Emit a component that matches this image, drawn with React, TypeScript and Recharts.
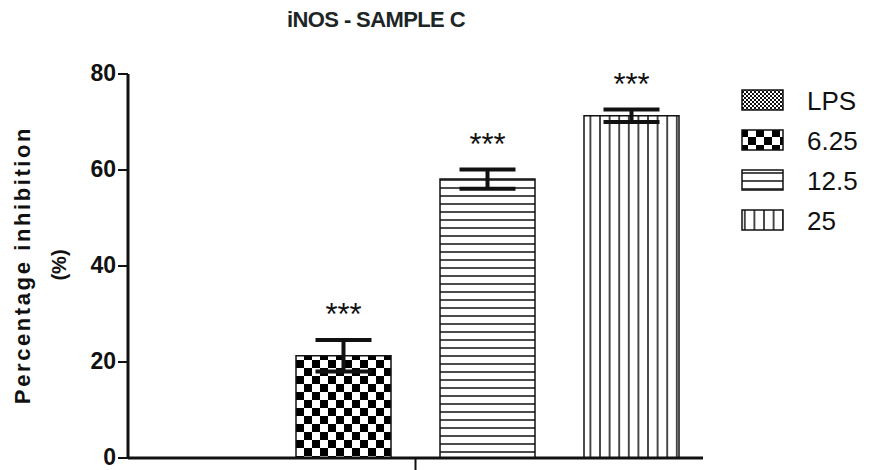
import React from 'react';
import { BarChart, Bar, XAxis, YAxis, ErrorBar, LabelList } from 'recharts';

const seriesKeys = ['lps', 'c625', 'c125', 'c25'];
const seriesNames = ['LPS', '6.25', '12.5', '25'];
const seriesValues = [0, 21.3, 58.1, 71.3];
const seriesErrors = [0, 3.3, 2.0, 1.3];
const seriesStars = ['', '***', '***', '***'];
const yTicks = [0, 20, 40, 60, 80];
const patternIds = ['patLps', 'patChk', 'patHor', 'patVer'];

const row: Record<string, any> = { name: 'group' };
seriesKeys.forEach((k, i) => {
  row[k] = seriesValues[i];
  row[k + 'Err'] = seriesErrors[i];
});
const data = [row];

const FONT = 'Arial, "Liberation Sans", Helvetica, sans-serif';

const Stars = (idx: number) => (props: any) => {
  const { x, y, width, height, value } = props;
  if (!seriesStars[idx] || !value) return null;
  const pxPerUnit = height / value;
  const errTop = y - seriesErrors[idx] * pxPerUnit;
  return (
    <text x={x + width / 2} y={errTop - 15} textAnchor="middle" fontFamily={FONT} fontSize={31} fill="#111">
      {seriesStars[idx]}
    </text>
  );
};

const LegendBox = () => (
  <svg width={132} height={160} style={{ position: 'absolute', left: 740, top: 89, overflow: 'visible' }}>
    {seriesNames.map((n, i) => (
      <g key={n} transform={`translate(0, ${i * 40})`}>
        <rect x={2} y={1} width={41} height={20} fill={`url(#${patternIds[i]})`} stroke="#111" strokeWidth={1.5} />
        <text x={67} y={21} fontFamily={FONT} fontSize={26} fill="#111">{n}</text>
      </g>
    ))}
  </svg>
);

const NoTick = () => <g />;

export default function App() {
  return (
    <div style={{ position: 'absolute', left: 0, top: 0, width: 873, height: 470, background: '#fff' }}>
      <BarChart
        width={873}
        height={470}
        data={data}
        margin={{ top: 74, right: 170, bottom: 11, left: 0 }}
        barSize={95}
        barGap={49}
      >
        <defs>
          <pattern id="patLps" patternUnits="userSpaceOnUse" width={4} height={4}>
            <rect width={4} height={4} fill="#fff" />
            <rect width={2} height={2} fill="#111" />
            <rect x={2} y={2} width={2} height={2} fill="#111" />
          </pattern>
          <pattern id="patChk" patternUnits="userSpaceOnUse" width={16} height={16}>
            <rect width={16} height={16} fill="#fff" />
            <rect width={8} height={8} fill="#000" />
            <rect x={8} y={8} width={8} height={8} fill="#000" />
          </pattern>
          <pattern id="patHor" patternUnits="userSpaceOnUse" width={8} height={8}>
            <rect width={8} height={8} fill="#fff" />
            <line x1={0} y1={4} x2={8} y2={4} stroke="#111" strokeWidth={1.5} />
          </pattern>
          <pattern id="patVer" patternUnits="userSpaceOnUse" width={9.6} height={8}>
            <rect width={9.6} height={8} fill="#fff" />
            <line x1={4.8} y1={0} x2={4.8} y2={8} stroke="#111" strokeWidth={1.5} />
          </pattern>
        </defs>
        <text x={376} y={27} textAnchor="middle" fontFamily={FONT} fontWeight="bold" fontSize={22} fill="#1c2626" letterSpacing={-0.6}>
          iNOS - SAMPLE C
        </text>
        <text
          transform="translate(30, 265) rotate(-90)"
          textAnchor="middle"
          fontFamily={FONT}
          fontWeight="bold"
          fontSize={22}
          letterSpacing={2.6}
          fill="#111"
        >
          Percentage inhibition
        </text>
        <text
          transform="translate(66, 265) rotate(-90)"
          textAnchor="middle"
          fontFamily={FONT}
          fontWeight="bold"
          fontSize={20}
          fill="#111"
        >
          (%)
        </text>
        <XAxis
          dataKey="name"
          height={1}
          tick={NoTick}
          tickSize={12}
          axisLine={{ stroke: '#111', strokeWidth: 3 }}
          tickLine={{ stroke: '#111', strokeWidth: 2 }}
        />
        <YAxis
          width={128}
          domain={[0, 80]}
          ticks={yTicks}
          interval={0}
          tickSize={10}
          axisLine={{ stroke: '#111', strokeWidth: 3 }}
          tickLine={{ stroke: '#111', strokeWidth: 2 }}
          tick={{ fill: '#111', fontSize: 23, fontWeight: 'bold', fontFamily: FONT, dy: -1 }}
        />
        {seriesKeys.map((k, i) => (
          <Bar
            key={k}
            dataKey={k}
            name={seriesNames[i]}
            fill={`url(#${patternIds[i]})`}
            stroke="#111"
            strokeWidth={1.5}
            isAnimationActive={false}
          >
            <ErrorBar dataKey={k + 'Err'} width={28} stroke="#111" strokeWidth={4} direction="y" />
            <LabelList dataKey={k} content={Stars(i)} />
          </Bar>
        ))}
      </BarChart>
      <LegendBox />
    </div>
  );
}
